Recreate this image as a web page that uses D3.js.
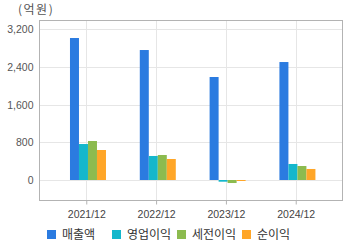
<!DOCTYPE html>
<html>
<head>
<meta charset="utf-8">
<script src="https://cdn.jsdelivr.net/npm/d3@7"></script>
<style>
  body { margin: 0; background: #fff; }
  svg { display: block; font-family: "Liberation Sans", "Noto Sans CJK KR", sans-serif; }
</style>
</head>
<body>
<div id="chart"></div>
<script>
// data
const periods = ["2021/12", "2022/12", "2023/12", "2024/12"];
const seriesNames = ["매출액", "영업이익", "세전이익", "순이익"];
const sales = [3015, 2760, 2187, 2505];
const opIncome = [764, 510, -36, 340];
const preTax = [828, 531, -64, 297];
const netIncome = [637, 446, -15, 234];
const yTicks = [0, 800, 1600, 2400, 3200];
const colors = ["#2b7be0", "#14b7cc", "#8cbb4f", "#ffa628"];

const allSeries = [sales, opIncome, preTax, netIncome];

const W = 360, H = 248;
const plot = {left: 39.5, right: 342.5, top: 20.5, bottom: 200.5};

const svg = d3.select("#chart").append("svg")
  .attr("width", W)
  .attr("height", H);

svg.append("rect").attr("width", W).attr("height", H).attr("fill", "white");

const x = d3.scalePoint()
  .domain(periods)
  .range([plot.left, plot.right])
  .padding(0.67);

// 0 sits at 180, 3200 at ~29.3
const y = d3.scaleLinear()
  .domain([0, 3200])
  .range([180, 29.3]);

const xInner = d3.scaleBand()
  .domain(seriesNames)
  .range([-16.3, 19.7]);

// grid
svg.append("g")
  .selectAll("line")
  .data(yTicks)
  .join("line")
  .attr("x1", plot.left)
  .attr("x2", plot.right)
  .attr("y1", d => Math.round(y(d)) + 0.5)
  .attr("y2", d => Math.round(y(d)) + 0.5)
  .attr("stroke", "#e6e6e6");

svg.append("g")
  .selectAll("line")
  .data(periods)
  .join("line")
  .attr("x1", d => Math.round(x(d)) + 0.5)
  .attr("x2", d => Math.round(x(d)) + 0.5)
  .attr("y1", plot.top)
  .attr("y2", plot.bottom)
  .attr("stroke", "#e6e6e6");

// bars
const groups = svg.append("g")
  .selectAll("g")
  .data(allSeries)
  .join("g")
  .attr("fill", (d, i) => colors[i]);

groups.selectAll("rect")
  .data((vals, si) => vals.map((v, pi) => ({v: v, p: periods[pi], s: seriesNames[si]})))
  .join("rect")
  .attr("x", d => x(d.p) + xInner(d.s))
  .attr("width", xInner.bandwidth())
  .attr("y", d => Math.min(y(d.v), y(0)))
  .attr("height", d => Math.max(Math.abs(y(d.v) - y(0)), 1));

// frame
svg.append("rect")
  .attr("x", plot.left)
  .attr("y", plot.top)
  .attr("width", plot.right - plot.left)
  .attr("height", plot.bottom - plot.top)
  .attr("fill", "none")
  .attr("stroke", "#b3b3b3");

// y axis
const yAxis = svg.append("g")
  .attr("transform", "translate(" + plot.left + ",0)")
  .call(d3.axisLeft(y).tickValues(yTicks).tickFormat(d3.format(",")).tickSize(0).tickPadding(6));
yAxis.select(".domain").remove();
yAxis.selectAll("text")
  .attr("fill", "#555")
  .attr("font-size", 10.5);

// x axis
const xAxis = svg.append("g")
  .attr("transform", "translate(0," + plot.bottom + ")")
  .call(d3.axisBottom(x).tickSize(4).tickPadding(6));
xAxis.select(".domain").remove();
xAxis.selectAll("line").attr("stroke", "#b3b3b3");
xAxis.selectAll("text")
  .attr("fill", "#444")
  .attr("font-size", 10.5);

// unit label
svg.append("text")
  .attr("x", 18)
  .attr("y", 14)
  .attr("fill", "#555")
  .attr("font-size", 12)
  .attr("letter-spacing", 1.5)
  .attr("font-family", "'Noto Sans CJK KR', sans-serif")
  .text("(억원)");

// legend
const legendX = [47, 112, 177, 242];
const legend = svg.append("g")
  .selectAll("g")
  .data(seriesNames)
  .join("g")
  .attr("transform", (d, i) => "translate(" + legendX[i] + ",230)");

legend.append("rect")
  .attr("width", 9)
  .attr("height", 9)
  .attr("fill", (d, i) => colors[i]);

legend.append("text")
  .attr("x", 15)
  .attr("y", 4.5)
  .attr("dy", "0.35em")
  .attr("fill", "#333")
  .attr("font-size", 12)
  .attr("font-family", "'Noto Sans CJK KR', sans-serif")
  .text(d => d);
</script>
</body>
</html>
